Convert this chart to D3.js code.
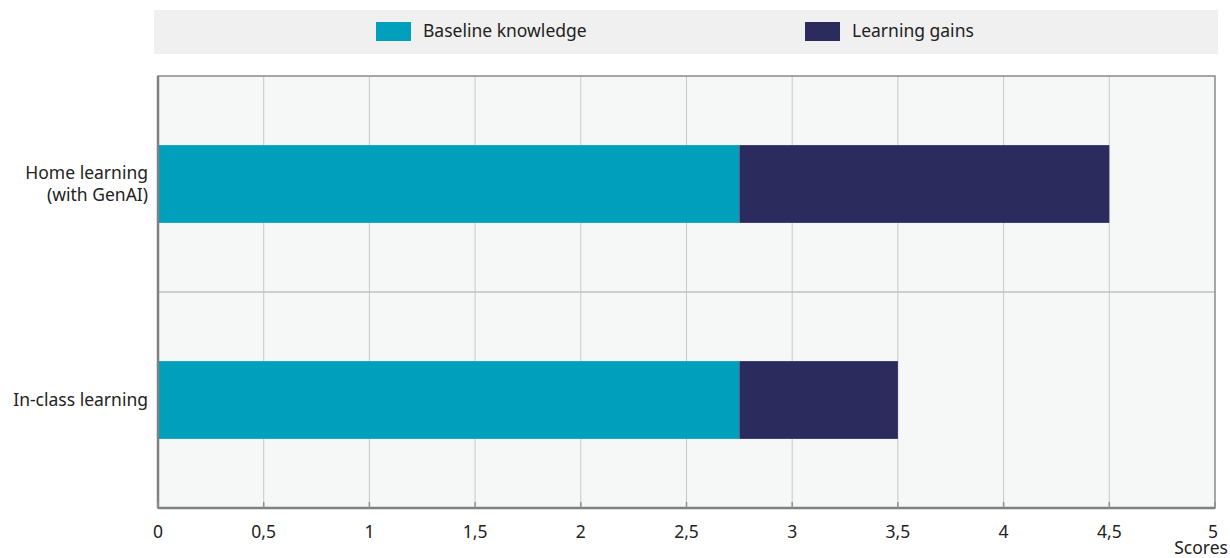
<!DOCTYPE html>
<html>
<head>
<meta charset="utf-8">
<script src="https://d3js.org/d3.v7.min.js"></script>
<style>
  body { margin: 0; background: #fff; font-family: "Noto Sans", sans-serif; }
  svg text { font-family: "Noto Sans", sans-serif; fill: #222; }
</style>
</head>
<body>
<svg id="chart"></svg>
<script>
const categories = [["Home learning", "(with GenAI)"], ["In-class learning"]];
const baseline = [2.75, 2.75];
const gains = [1.75, 0.75];
const seriesNames = ["Baseline knowledge", "Learning gains"];
const xTicks = [0, 0.5, 1, 1.5, 2, 2.5, 3, 3.5, 4, 4.5, 5];

const width = 1230, height = 558;
const margin = { top: 76, right: 15, bottom: 50, left: 158 };
const colors = ["#00a0bc", "#2b2b5e"];
const fontSize = "17.5px";

const svg = d3.select("#chart").attr("width", width).attr("height", height);

// Legend band
svg.append("rect")
   .attr("x", 154).attr("y", 10)
   .attr("width", 1064).attr("height", 44)
   .attr("fill", "#f0f0f0");

const legendX = [376, 805];
seriesNames.forEach((name, i) => {
    svg.append("rect")
       .attr("x", legendX[i]).attr("y", 22)
       .attr("width", 35).attr("height", 19)
       .attr("fill", colors[i]);
    svg.append("text")
       .attr("x", legendX[i] + 47).attr("y", 31)
       .attr("dy", "0.35em")
       .attr("font-size", fontSize)
       .text(name);
});

const x = d3.scaleLinear()
    .domain([0, 5])
    .range([margin.left, width - margin.right]);

const y = d3.scaleBand()
    .domain(d3.range(categories.length))
    .range([margin.top, height - margin.bottom])
    .paddingInner(0)
    .paddingOuter(0);

// Plot background
svg.append("rect")
   .attr("x", x(0)).attr("y", y.range()[0])
   .attr("width", x(5) - x(0)).attr("height", y.range()[1] - y.range()[0])
   .attr("fill", "#f6f7f7");

// Vertical grid
svg.selectAll(".grid")
   .data(xTicks.slice(1, -1))
   .enter()
   .append("line")
   .attr("x1", d => x(d)).attr("x2", d => x(d))
   .attr("y1", y.range()[0]).attr("y2", y.range()[1])
   .attr("stroke", "#c8c8c8")
   .attr("stroke-width", 1);

// Category separators
svg.selectAll(".sep")
   .data(d3.range(1, categories.length))
   .enter()
   .append("line")
   .attr("x1", x(0)).attr("x2", x(5))
   .attr("y1", d => y(d)).attr("y2", d => y(d))
   .attr("stroke", "#c0c0c0")
   .attr("stroke-width", 1.5);

// Bars
const barH = y.bandwidth() * 0.36;
const rows = categories.map((c, i) => ({ i, base: baseline[i], gain: gains[i] }));

svg.selectAll(".bar-base")
   .data(rows)
   .enter()
   .append("rect")
   .attr("x", x(0))
   .attr("y", d => y(d.i) + (y.bandwidth() - barH) / 2)
   .attr("width", d => x(d.base) - x(0))
   .attr("height", barH)
   .attr("fill", colors[0]);

svg.selectAll(".bar-gain")
   .data(rows)
   .enter()
   .append("rect")
   .attr("x", d => x(d.base))
   .attr("y", d => y(d.i) + (y.bandwidth() - barH) / 2)
   .attr("width", d => x(d.base + d.gain) - x(d.base))
   .attr("height", barH)
   .attr("fill", colors[1]);

// Frame
svg.append("rect")
   .attr("x", x(0)).attr("y", y.range()[0])
   .attr("width", x(5) - x(0)).attr("height", y.range()[1] - y.range()[0])
   .attr("fill", "none")
   .attr("stroke", "#8a8a8a")
   .attr("stroke-width", 1.5);
svg.append("line")
   .attr("x1", x(0)).attr("x2", x(0))
   .attr("y1", y.range()[0]).attr("y2", y.range()[1])
   .attr("stroke", "#808080").attr("stroke-width", 2.5);
svg.append("line")
   .attr("x1", x(0)).attr("x2", x(5))
   .attr("y1", y.range()[1]).attr("y2", y.range()[1])
   .attr("stroke", "#808080").attr("stroke-width", 2.5);

// Bottom tick marks
svg.selectAll(".tick-mark")
   .data(xTicks)
   .enter()
   .append("line")
   .attr("x1", d => x(d)).attr("x2", d => x(d))
   .attr("y1", y.range()[1] - 6).attr("y2", y.range()[1])
   .attr("stroke", "#909090").attr("stroke-width", 1.5);

// Tick labels
const fmt = d => String(d).replace(".", ",");
svg.selectAll(".tick-label")
   .data(xTicks)
   .enter()
   .append("text")
   .attr("x", d => x(d))
   .attr("y", 532)
   .attr("dy", "0.35em")
   .attr("text-anchor", "middle")
   .attr("dx", (d, i) => i === xTicks.length - 1 ? -2 : 0)
   .attr("font-size", fontSize)
   .text(fmt);

svg.append("text")
   .attr("x", 1228).attr("y", 548)
   .attr("dy", "0.35em")
   .attr("text-anchor", "end")
   .attr("font-size", fontSize)
   .text("Scores");

// Category labels
categories.forEach((lines, i) => {
    const cy = y(i) + y.bandwidth() / 2;
    const t = svg.append("text")
       .attr("text-anchor", "end")
       .attr("font-size", fontSize);
    lines.forEach((line, j) => {
        t.append("tspan")
         .attr("x", 148)
         .attr("y", cy + (j - (lines.length - 1) / 2) * 22)
         .attr("dy", "0.35em")
         .text(line);
    });
});
</script>
</body>
</html>
